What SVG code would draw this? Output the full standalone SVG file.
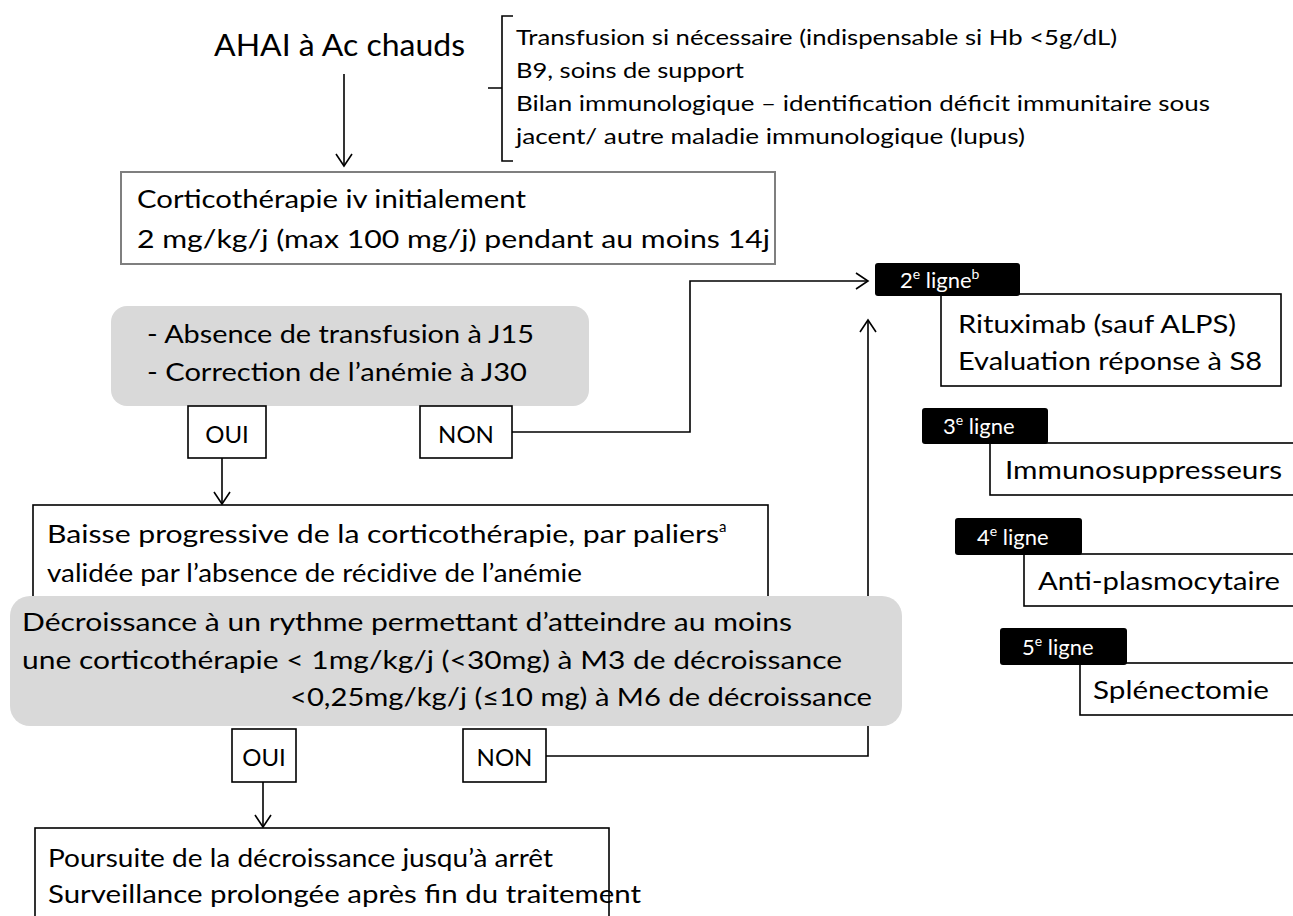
<svg xmlns="http://www.w3.org/2000/svg" width="1293" height="916" viewBox="0 0 1293 916">
<defs>
<marker id="arr" markerUnits="userSpaceOnUse" markerWidth="16" markerHeight="18" viewBox="0 0 16 18" refX="14" refY="9" orient="auto">
<path d="M2,1 L14,9 L2,17" fill="none" stroke="#000" stroke-width="1.6"/>
</marker>
<style>
text{font-family:Lato,"Open Sans","DejaVu Sans",sans-serif;fill:#000}
.t{font-size:25px}
.s{font-size:22px}
.lbl{font-size:22px;fill:#fff}
.yn{font-size:24px}
.box{fill:#fff;stroke:#000;stroke-width:1.6}
.gbox{fill:#fff;stroke:#7f7f7f;stroke-width:2}
.grey{fill:#d9d9d9}
.blk{fill:#000}
.con{fill:none;stroke:#000;stroke-width:1.6}
</style>
</defs>
<rect width="1293" height="916" fill="#fff"/>

<g id="connectors">
<line class="con" x1="344" y1="74" x2="344" y2="166" marker-end="url(#arr)"/>
<path class="con" d="M512,432 H690 V281 H868" marker-end="url(#arr)"/>
<line class="con" x1="222" y1="458" x2="222" y2="504" marker-end="url(#arr)"/>
<path class="con" d="M546,756 H868 V320" marker-end="url(#arr)"/>
<line class="con" x1="263" y1="782" x2="263" y2="827" marker-end="url(#arr)"/>
<path class="con" d="M513,16 H502 V88 H488 M502,88 V161 H513"/>
</g>

<g id="title">
<text x="214" y="56" style="font-size:31px" textLength="251" lengthAdjust="spacingAndGlyphs">AHAI à Ac chauds</text>
</g>

<g id="notes">
<text class="s" x="516" y="45" textLength="601" lengthAdjust="spacingAndGlyphs">Transfusion si nécessaire (indispensable si Hb &lt;5g/dL)</text>
<text class="s" x="516" y="78" textLength="228" lengthAdjust="spacingAndGlyphs">B9, soins de support</text>
<text class="s" x="516" y="111" textLength="694" lengthAdjust="spacingAndGlyphs">Bilan immunologique – identification déficit immunitaire sous</text>
<text class="s" x="516" y="144" textLength="509" lengthAdjust="spacingAndGlyphs">jacent/ autre maladie immunologique (lupus)</text>
</g>

<g id="cortico">
<rect class="gbox" x="121" y="172" width="654" height="92"/>
<text class="t" x="137" y="208" textLength="389" lengthAdjust="spacingAndGlyphs">Corticothérapie iv initialement</text>
<text class="t" x="137" y="248" textLength="633" lengthAdjust="spacingAndGlyphs">2 mg/kg/j (max 100 mg/j) pendant au moins 14j</text>
</g>

<g id="critere1">
<rect class="grey" x="111" y="306" width="478" height="100" rx="16"/>
<text class="t" x="147" y="343" textLength="387" lengthAdjust="spacingAndGlyphs">- Absence de transfusion à J15</text>
<text class="t" x="147" y="381" textLength="380" lengthAdjust="spacingAndGlyphs">- Correction de l’anémie à J30</text>
</g>

<g id="oui1">
<rect class="box" x="188" y="406" width="78" height="52"/>
<text class="yn" x="227" y="443" text-anchor="middle">OUI</text>
</g>

<g id="non1">
<rect class="box" x="420" y="406" width="92" height="52"/>
<text class="yn" x="466" y="443" text-anchor="middle">NON</text>
</g>

<g id="baisse">
<rect class="box" x="33" y="505" width="735" height="92"/>
<text class="t" x="47" y="543"><tspan textLength="672" lengthAdjust="spacingAndGlyphs">Baisse progressive de la corticothérapie, par paliers</tspan><tspan font-size="15" dy="-11">a</tspan></text>
<text class="t" x="47" y="582" textLength="535" lengthAdjust="spacingAndGlyphs">validée par l’absence de récidive de l’anémie</text>
</g>

<g id="critere2">
<rect class="grey" x="10" y="596" width="892" height="130" rx="20"/>
<text class="t" x="22" y="631" textLength="770" lengthAdjust="spacingAndGlyphs">Décroissance à un rythme permettant  d’atteindre au moins</text>
<text class="t" x="22" y="669" textLength="820" lengthAdjust="spacingAndGlyphs">une corticothérapie  &lt; 1mg/kg/j  (&lt;30mg) à M3 de décroissance</text>
<text class="t" x="290" y="706" textLength="582" lengthAdjust="spacingAndGlyphs">&lt;0,25mg/kg/j (≤10 mg) à M6 de décroissance</text>
</g>

<g id="oui2">
<rect class="box" x="232" y="729" width="64" height="53"/>
<text class="yn" x="264" y="766" text-anchor="middle">OUI</text>
</g>

<g id="non2">
<rect class="box" x="463" y="729" width="83" height="53"/>
<text class="yn" x="504.5" y="766" text-anchor="middle">NON</text>
</g>

<g id="poursuite">
<rect class="box" x="35" y="828" width="574" height="100"/>
<text class="t" x="48" y="867" textLength="505" lengthAdjust="spacingAndGlyphs">Poursuite de la décroissance jusqu’à arrêt</text>
<text class="t" x="48" y="903" textLength="593" lengthAdjust="spacingAndGlyphs">Surveillance prolongée après fin du traitement</text>
</g>

<g id="ligne2">
<rect class="box" x="941" y="294" width="340" height="92"/>
<text class="t" x="958" y="333" textLength="278" lengthAdjust="spacingAndGlyphs">Rituximab (sauf ALPS)</text>
<text class="t" x="958" y="370" textLength="304" lengthAdjust="spacingAndGlyphs">Evaluation réponse à S8</text>
<rect class="blk" x="875" y="263" width="145" height="33" rx="3"/>
<text class="lbl" x="900" y="288">2<tspan font-size="14" dy="-9">e</tspan><tspan dy="9"> ligne</tspan><tspan font-size="14" dy="-9">b</tspan></text>
</g>

<g id="ligne3">
<rect class="box" x="990" y="443" width="310" height="52"/>
<text class="t" x="1005" y="479" textLength="277" lengthAdjust="spacingAndGlyphs">Immunosuppresseurs</text>
<rect class="blk" x="922" y="408" width="126" height="36" rx="3"/>
<text class="lbl" x="943" y="434">3<tspan font-size="14" dy="-9">e</tspan><tspan dy="9"> ligne</tspan></text>
</g>

<g id="ligne4">
<rect class="box" x="1024" y="554" width="280" height="52"/>
<text class="t" x="1038" y="590" textLength="242" lengthAdjust="spacingAndGlyphs">Anti-plasmocytaire</text>
<rect class="blk" x="955" y="518" width="127" height="37" rx="3"/>
<text class="lbl" x="977" y="545">4<tspan font-size="14" dy="-9">e</tspan><tspan dy="9"> ligne</tspan></text>
</g>

<g id="ligne5">
<rect class="box" x="1080" y="663" width="220" height="52"/>
<text class="t" x="1093" y="699" textLength="176" lengthAdjust="spacingAndGlyphs">Splénectomie</text>
<rect class="blk" x="1000" y="628" width="127" height="37" rx="3"/>
<text class="lbl" x="1022" y="655">5<tspan font-size="14" dy="-9">e</tspan><tspan dy="9"> ligne</tspan></text>
</g>
</svg>
